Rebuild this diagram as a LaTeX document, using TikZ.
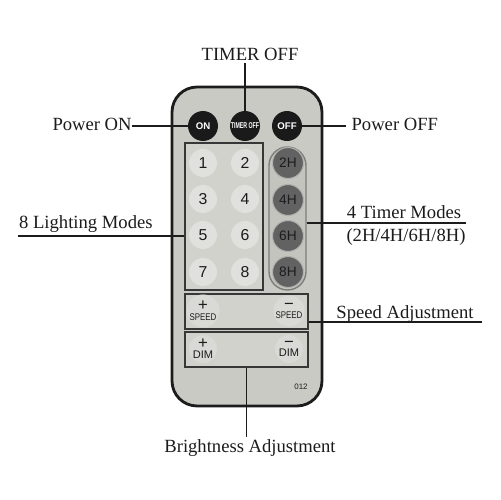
\documentclass[tikz,border=0pt]{standalone}
\usepackage{fontspec}
\setmainfont{Liberation Serif}
\setsansfont{Liberation Sans}
\usepackage{xcolor}
\usetikzlibrary{positioning}
\definecolor{ink}{RGB}{28,28,28}
\definecolor{bodyfill}{RGB}{202,202,197}
\definecolor{padfill}{RGB}{210,210,205}
\definecolor{padline}{RGB}{55,55,55}
\definecolor{keynum}{RGB}{224,224,221}
\definecolor{keydark}{RGB}{26,26,26}
\definecolor{keytime}{RGB}{98,98,98}
\definecolor{pillfill}{RGB}{196,196,191}
\definecolor{pillline}{RGB}{125,125,122}
\newcommand{\keyfont}[1]{\fontsize{#1}{#1}\selectfont\sffamily}

\begin{document}
\begin{tikzpicture}[
  x=0.02cm, y=-0.02cm,
  font=\fontsize{10.6}{12}\selectfont,
  lbl/.style={inner sep=1pt,text=ink},
  callout/.style={draw=ink,line width=1.1pt},
  panel/.style={draw=padline,line width=0.8pt,fill=padfill,inner sep=0pt},
  darkkey/.style={circle,fill=keydark,text=white,minimum size=0.6cm,inner sep=0pt,font=\keyfont{5.5}\bfseries},
  numkey/.style={circle,fill=keynum,text=ink,minimum size=0.56cm,inner sep=0pt,font=\keyfont{9}},
  timekey/.style={circle,fill=keytime,draw=pillline!60,line width=0.6pt,text=ink,minimum size=0.62cm,inner sep=0pt,font=\keyfont{7.8}},
  adjkey/.style={circle,fill=keynum!50!padfill,text=ink,minimum size=0.56cm,inner sep=0pt,align=center,font=\keyfont{5.5}}
]
\useasboundingbox[fill=white] (0,0) rectangle (500,500);
% remote body
\node[draw=ink,line width=1.6pt,fill=bodyfill,rounded corners=0.5cm,minimum width=3cm,minimum height=6.38cm] (remote) at (247,246.5) {};
% top row
\node[darkkey] (on) at (203,126) {ON};
\node[darkkey] (timeroff) at (245,126) {\keyfont{4.8}\bfseries\scalebox{0.62}[1]{TIMER OFF}};
\node[darkkey] (off) at (287,126) {OFF};
% lighting keys
\node[panel,minimum width=1.56cm,minimum height=2.94cm] (numpad) at (224,216.5) {};
\foreach \n/\x/\y in {1/203/163,2/245/163,3/203/199,4/245/199,5/203/235,6/245/235,7/203/272,8/245/272}
  \node[numkey] (k\n) at (\x,\y) {\n};
% timer keys
\node[draw=pillline,line width=0.8pt,fill=pillfill,rounded corners=0.37cm,minimum width=0.74cm,minimum height=2.86cm,inner sep=0pt] (timerpill) at (287.5,218.5) {};
\foreach \h/\y in {2/163,4/200,6/236,8/272}
  \node[timekey] (t\h) at (288,\y) {\h H};
% speed / dim
\node[panel,minimum width=2.46cm,minimum height=0.7cm] (speedbox) at (246.5,311.5) {};
\node[panel,minimum width=2.46cm,minimum height=0.7cm] (dimbox) at (246.5,349.5) {};
\node[adjkey] (spdup) at (203,311) {{\fontsize{9.5}{7}\selectfont +}\\\scalebox{0.82}[1]{SPEED}};
\node[adjkey] (spddn) at (289,311) {{\fontsize{9.5}{7}\selectfont −}\\\scalebox{0.82}[1]{SPEED}};
\node[adjkey] (dimup) at (203,349) {{\fontsize{9.5}{7}\selectfont +}\\\fontsize{6.3}{6}\selectfont DIM};
\node[adjkey] (dimdn) at (289,349) {{\fontsize{9.5}{7}\selectfont −}\\\fontsize{6.3}{6}\selectfont DIM};
\node[inner sep=0pt,text=ink,font=\keyfont{4.5}] (model) at (301,387) {012};
% labels
\node[lbl,anchor=base] (lbltimer) at (250,61) {TIMER OFF};
\node[lbl,anchor=base east,inner sep=0pt] (lblon) at (132,131) {Power ON};
\node[lbl,anchor=base west,inner sep=3pt] (lbloff) at (346,131) {Power OFF};
\node[lbl,anchor=base west] (lbllight) at (17,228) {8 Lighting Modes};
\node[lbl,anchor=base] (lbltm) at (404,218) {4 Timer Modes};
\node[lbl,anchor=base] (lbltm2) at (406,241) {(2H/4H/6H/8H)};
\node[lbl,anchor=base] (lblspeed) at (405,318) {Speed Adjustment};
\node[lbl,anchor=base] (lblbright) at (250,452) {Brightness Adjustment};
\coordinate (lmend) at (18,236);
\coordinate (tmend) at (466,223);
\coordinate (spend) at (482,322);
% callouts
\draw[callout] (timeroff.north) -- (timeroff.north |- lbltimer.south);
\draw[callout] (on.west) -- (on.west -| lblon.east);
\draw[callout] (off.east) -- (off.east -| lbloff.west);
\draw[callout] (lmend) -- (lmend -| numpad.west);
\draw[callout] (tmend) -- (tmend -| timerpill.east);
\draw[callout] (spend) -- (spend -| speedbox.east);
\draw[callout] (dimbox.south) -- (dimbox.south |- lblbright.north);
\end{tikzpicture}
\end{document}
